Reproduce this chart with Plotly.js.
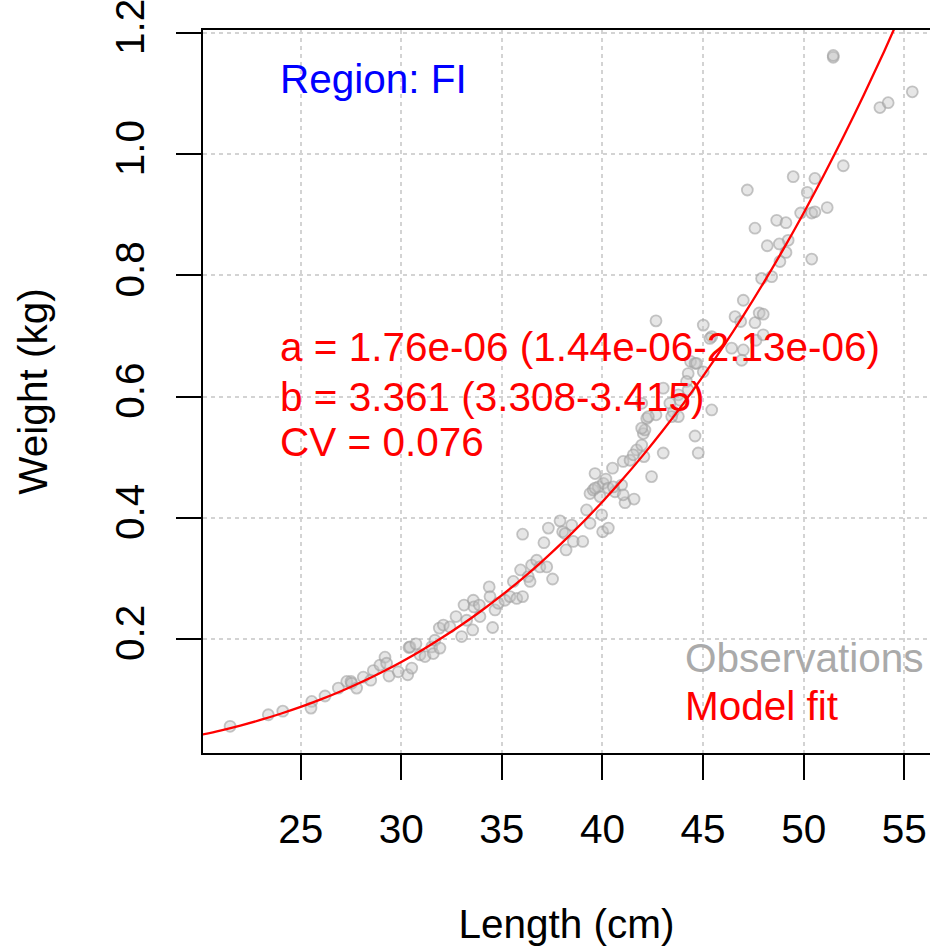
<!DOCTYPE html>
<html><head><meta charset="utf-8">
<script src="https://cdn.plot.ly/plotly-3.0.1.min.js"></script>
<style>html,body{margin:0;padding:0;background:#fff;overflow:hidden}#plot{width:930px;height:950px}</style>
</head><body><div id="plot"></div>
<script>
// Observations: length (cm) and weight (kg)
const obsLength = [21.49,23.39,24.11,25.55,25.51,26.21,26.87,27.29,27.50,27.53,27.78,28.11,28.48,28.61,28.94,29.19,29.27,29.39,29.85,30.32,30.38,30.52,
30.43,30.73,30.93,31.18,31.51,31.59,31.67,31.92,31.89,32.09,32.42,32.72,33.00,33.12,33.25,33.58,33.61,33.55,33.88,33.91,34.37,34.41,34.54,34.66,34.82,35.15,35.40,35.57,35.74,35.93,36.03,36.03,36.31,36.40,36.48,36.73,36.89,37.09,37.23,37.31,37.52,37.89,38.02,38.19,38.47,38.55,
38.14,39.02,39.38,39.21,39.38,39.63,39.54,39.79,39.88,39.96,40.01,40.29,40.04,40.17,40.50,40.62,40.29,40.95,41.03,41.12,41.37,41.57,41.70,41.95,42.03,42.11,41.95,42.20,42.06,
42.66,47.00,46.59,45.01,45.43,46.42,47.00,46.92,44.38,44.60,44.26,44.18,44.26,43.77,43.85,43.02,43.35,43.52,43.77,43.44,45.43,44.60,44.76,42.66,42.28,41.95,43.02,42.44,41.53,39.63,40.54,41.03,
51.97,49.48,50.56,47.20,50.18,51.17,49.85,50.40,50.56,48.66,49.12,47.58,49.23,48.19,48.79,49.12,50.40,48.82,47.91,48.41,46.87,47.58,47.79,47.99,45.34,47.63,47.99,44.68,45.01,
51.47,51.47,55.40,53.79,54.20];
const obsWeight = [0.056,0.075,0.081,0.097,0.086,0.106,0.119,0.130,0.130,0.127,0.119,0.137,0.132,0.148,0.157,0.170,0.160,0.139,0.146,0.141,0.186,0.152,
0.187,0.192,0.174,0.171,0.187,0.176,0.198,0.185,0.218,0.223,0.220,0.237,0.204,0.256,0.231,0.264,0.253,0.215,0.256,0.237,0.286,0.270,0.219,0.248,0.259,0.264,0.270,0.295,0.267,0.314,0.270,0.373,0.303,0.295,0.322,0.330,0.319,0.359,0.319,0.383,0.299,0.395,0.377,0.347,0.388,0.361,
0.374,0.361,0.391,0.413,0.440,0.473,0.446,0.451,0.435,0.405,0.377,0.383,0.457,0.464,0.482,0.443,0.449,0.454,0.493,0.425,0.495,0.431,0.512,0.520,0.539,0.545,0.589,0.564,0.501,
0.725,0.759,0.732,0.718,0.699,0.680,0.677,0.660,0.658,0.655,0.638,0.625,0.611,0.603,0.594,0.614,0.589,0.575,0.567,0.567,0.578,0.535,0.507,0.570,0.567,0.548,0.507,0.468,0.504,0.449,0.451,0.438,
0.981,0.963,0.960,0.941,0.937,0.912,0.903,0.903,0.905,0.891,0.887,0.878,0.858,0.849,0.852,0.838,0.827,0.823,0.795,0.798,0.724,0.722,0.738,0.736,0.696,0.693,0.702,0.655,0.641,
1.160,1.163,1.103,1.077,1.085];

// Model fit curve W = a*L^b (a = 1.76e-06, b = 3.361), tabulated values
const fitLength = [20,21,22,23,24,25,26,27,28,29,30,31,32,33,34,35,36,37,38,39,40,41,42,43,44,45,46,47,48,49,50,51,52,53,54,55,56];
const fitWeight = [0.04152,0.04892,0.05720,0.06641,0.07663,0.08790,0.10028,0.11384,0.12864,0.14475,0.16222,0.18113,0.20152,0.22348,0.24707,0.27235,0.29940,0.32828,0.35906,0.39181,0.42660,0.46352,0.50262,0.54397,0.58768,0.63379,0.68238,0.73353,0.78731,0.84380,0.90309,0.96525,1.03034,1.09847,1.16969,1.24410,1.32177];

const xTicks = [25,30,35,40,45,50,55];
const yTicks = [0.2,0.4,0.6,0.8,1.0,1.2];
const yTickText = ["0.2","0.4","0.6","0.8","1.0","1.2"];

const labelRegion = "Region: FI";
const labelA = "a = 1.76e-06 (1.44e-06-2.13e-06)";
const labelB = "b = 3.361 (3.308-3.415)";
const labelCV = "CV = 0.076";

const F = "Liberation Sans, Arial, sans-serif";
const FS = 40.5;

const traces = [
  {x: obsLength, y: obsWeight, type: 'scatter', mode: 'markers', name: 'Observations',
   marker: {size: 11, color: 'rgba(195,195,195,0.42)', line: {color: 'rgba(160,160,160,0.6)', width: 1.8}},
   hoverinfo: 'x+y'},
  {x: fitLength, y: fitWeight, type: 'scatter', mode: 'lines', name: 'Model fit',
   line: {color: '#ff0000', width: 2.3, shape: 'spline'}}
];

const annFont = (c) => ({family: F, size: FS, color: c});
const ann = (txt, x, y, c) => ({text: txt, xref: 'paper', yref: 'paper', x: x, y: y, xanchor: 'left', yanchor: 'middle', showarrow: false, font: annFont(c)});

const layout = {
  width: 930, height: 950,
  margin: {l: 203, r: 0, t: 30, b: 197},
  paper_bgcolor: '#fff', plot_bgcolor: '#fff',
  showlegend: false,
  font: {family: F, size: FS, color: '#000'},
  xaxis: {
    range: [20.144, 56.28], tickvals: xTicks, ticks: 'outside', ticklen: 25, tickwidth: 2, tickcolor: '#000',
    showline: true, linecolor: '#000', linewidth: 2, mirror: true, zeroline: false,
    showgrid: true, gridcolor: '#d3d3d3', gridwidth: 2, griddash: '4px,4px',
    tickfont: {family: F, size: FS, color: '#000'}, ticklabelstandoff: 14, ticklabeloverflow: 'allow',
    title: {text: 'Length (cm)', font: {family: F, size: FS, color: '#000'}, standoff: 59}
  },
  yaxis: {
    range: [0.0119, 1.205], tickvals: yTicks, ticktext: yTickText, tickangle: -90,
    ticks: 'outside', ticklen: 25, tickwidth: 2, tickcolor: '#000',
    showline: true, linecolor: '#000', linewidth: 2, mirror: false, zeroline: false,
    showgrid: true, gridcolor: '#d3d3d3', gridwidth: 2, griddash: '4px,4px',
    tickfont: {family: F, size: FS, color: '#000'}, ticklabelstandoff: 16, ticklabeloverflow: 'allow',
    title: {text: 'Weight (kg)', font: {family: F, size: FS, color: '#000'}, standoff: 47}
  },
  annotations: [
    ann(labelRegion, 0.1032, 0.9322, '#0000ff'),
    ann(labelA, 0.1032, 0.5615, '#ff0000'),
    ann(labelB, 0.1032, 0.4924, '#ff0000'),
    ann(labelCV, 0.1032, 0.4302, '#ff0000'),
    ann('Observations', 0.6602, 0.1314, '#aaaaaa'),
    ann('Model fit', 0.6602, 0.0650, '#ff0000')
  ]
};

Plotly.newPlot('plot', traces, layout, {displayModeBar: false, staticPlot: true});
</script></body></html>
